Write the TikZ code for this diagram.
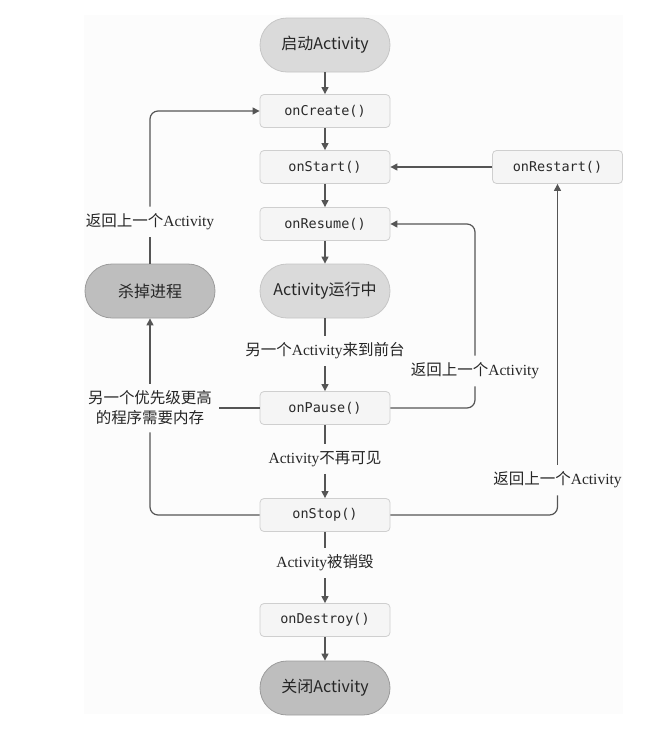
\documentclass[tikz,border=0pt]{standalone}
\usepackage{fontspec}
\setmainfont{Liberation Serif}
\setmonofont{DejaVu Sans Mono}
\newfontfamily\cjk{Noto Sans CJK SC}
\newcommand{\zh}[1]{{\cjk #1}}
\usetikzlibrary{arrows.meta}
\definecolor{bgfill}{HTML}{FCFCFC}
\definecolor{pilllight}{HTML}{DADADA}
\definecolor{pilllightline}{HTML}{C6C6C6}
\definecolor{pilldark}{HTML}{BEBEBE}
\definecolor{pilldarkline}{HTML}{9C9C9C}
\definecolor{cbfill}{HTML}{F5F5F5}
\definecolor{cbline}{HTML}{CFCFCF}
\definecolor{cbtext}{HTML}{2A2A2A}
\definecolor{linegray}{HTML}{555555}
\tikzstyle{pill} = [rectangle, rounded corners=27pt, minimum width=130pt, minimum height=54pt, text centered, draw=pilllightline, fill=pilllight, line width=0.8pt, font=\cjk\fontsize{16}{19}\selectfont, text=black!85]
\tikzstyle{killpill} = [pill, draw=pilldarkline, fill=pilldark]
\tikzstyle{cb} = [rectangle, rounded corners=4pt, minimum width=130pt, minimum height=33pt, text centered, draw=cbline, fill=cbfill, line width=0.8pt, font=\ttfamily\fontsize{13.5}{16}\selectfont, text=cbtext]
\tikzstyle{lbl} = [inner sep=7pt, align=center, font=\fontsize{15.5}{20}\selectfont, text=black!85]
\tikzstyle{line} = [draw=linegray, line width=1.2pt, rounded corners=8pt]
\tikzstyle{arrow} = [line, -{Triangle[length=7pt,width=7pt]}]

\begin{document}
\begin{tikzpicture}[x=1pt, y=1pt, node distance=56pt]
	\useasboundingbox (0,0) rectangle (648,-732);
	\fill[bgfill] (84,-15) rectangle (623,-714);
	% main column
	\node (start) [pill] at (325,-45) {启动Activity};
	\node (create) [cb, below of=start, yshift=-10pt] {onCreate()};
	\node (onstart) [cb, below of=create] {onStart()};
	\node (resume) [cb, below of=onstart, yshift=-1pt] {onResume()};
	\node (running) [pill, below of=resume, yshift=-11pt] {Activity运行中};
	\node (front) [lbl, below of=running, yshift=-4pt] {\zh{另一个}Activity\zh{来到前台}};
	\node (pause) [cb, below of=running, yshift=-61pt] {onPause()};
	\node (hidden) [lbl, below of=pause, yshift=5pt] {Activity\zh{不再可见}};
	\node (stop) [cb, below of=pause, yshift=-51pt] {onStop()};
	\node (gone) [lbl, below of=stop, yshift=8pt] {Activity\zh{被销毁}};
	\node (destroy) [cb, below of=stop, yshift=-49pt] {onDestroy()};
	\node (close) [killpill, below of=destroy, yshift=-12pt] {关闭Activity};
	% side nodes
	\node (restart) [cb, right of=onstart, xshift=176.5pt] {onRestart()};
	\node (kill) [killpill, left of=running, xshift=-119pt] {杀掉进程};
	\node (backleft) [lbl, above of=kill, yshift=13pt] {\zh{返回上一个}Activity};
	\node (memory) [lbl, left of=pause, xshift=-119pt] {\zh{另一个优先级更高}\\\zh{的程序需要内存}};
	\node (backmid) [lbl, right of=pause, xshift=94pt, yshift=37pt] {\zh{返回上一个}Activity};
	\node (backright) [lbl, right of=stop, xshift=176.5pt, yshift=35pt] {\zh{返回上一个}Activity};

	\draw [arrow] (start) -- (create);
	\draw [arrow] (create) -- (onstart);
	\draw [arrow] (onstart) -- (resume);
	\draw [arrow] (resume) -- (running);
	\draw [line] (running) -- (front);
	\draw [arrow] (front) -- (pause);
	\draw [line] (pause) -- (hidden);
	\draw [arrow] (hidden) -- (stop);
	\draw [line] (stop) -- (gone);
	\draw [arrow] (gone) -- (destroy);
	\draw [arrow] (destroy) -- (close);

	\draw [arrow] (restart) -- (onstart);
	\draw [line] (stop.east) -| (backright.south);
	\draw [arrow] (backright.north) -- (restart.south);
	\draw [line] (pause.east) -| (backmid.south);
	\draw [arrow] (backmid.north) |- (resume.east);

	\draw [line] (pause.west) -- (memory.east);
	\draw [line] (stop.west) -| (memory.south);
	\draw [arrow] (memory.north) -- (kill.south);
	\draw [line] (kill.north) -- (backleft.south);
	\draw [arrow] (backleft.north) |- (create.west);
\end{tikzpicture}
\end{document}
